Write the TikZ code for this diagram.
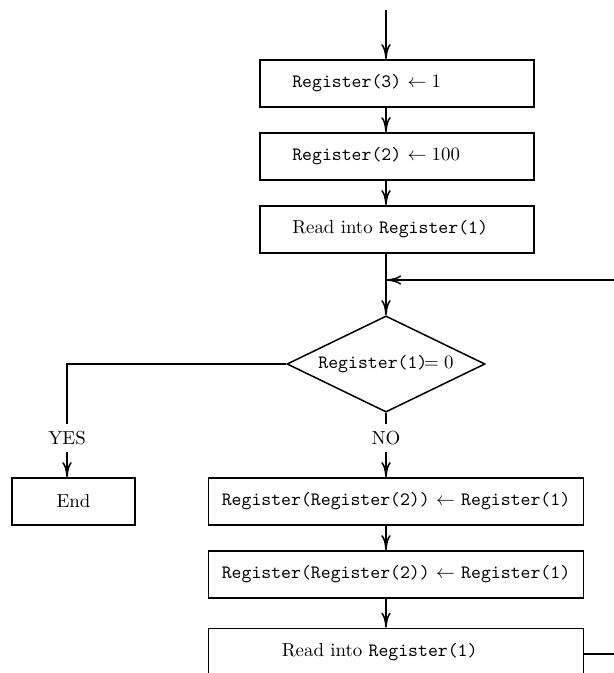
\documentclass[tikz,border=0pt]{standalone}
\usepackage{tikz}
\usetikzlibrary{positioning,shapes.geometric,arrows.meta}

\begin{document}
\begin{tikzpicture}[x=0.53pt, y=-0.53pt, line width=0.8pt,
        >={To[length=8pt,width=5pt]},
        box/.style={rectangle, draw, minimum height=25pt, inner xsep=17pt,
            text width=111pt, align=left},
        widebox/.style={rectangle, draw, minimum height=25pt, minimum width=199pt},
        decision/.style={diamond, draw, inner sep=0pt, aspect=2,
            minimum width=105pt, minimum height=51pt}]
        \useasboundingbox (0,0) rectangle (614,673);
        \clip (0,0) rectangle (614,673);

        \coordinate (start) at (386,10);
        \coordinate (loop) at (614,280);
        \coordinate (exit) at (614,654);

        \node (reg3) [box] at (397,83.5) {\texttt{Register(3)} $\leftarrow 1$};
        \node (reg2) [box] at (397,156.5) {\texttt{Register(2)} $\leftarrow 100$};
        \node (read) [box] at (397,229.5) {Read into \texttt{Register(1)}};
        \node (test) [decision] at (386,364) {\texttt{Register(1)}$\!=0$};
        \node (yes) at (67,438) {YES};
        \node (no) at (386,438) {NO};
        \node (finish) [rectangle, draw, minimum height=25pt, minimum width=65pt]
            at (73.5,501.5) {End};
        \node (store) [widebox] at (396,501.5)
            {\texttt{Register(Register(2))} $\leftarrow$ \texttt{Register(1)}};
        \node (store2) [widebox] at (396,574.5)
            {\texttt{Register(Register(2))} $\leftarrow$ \texttt{Register(1)}};
        \node (again) [box, inner xsep=39pt, text width=121pt] at (396,652)
            {Read into \texttt{Register(1)}};

        \path[->]
            (start) edge (start |- reg3.north)
            (reg3.south -| start) edge (reg2.north -| start)
            (reg2.south -| start) edge (read.north -| start)
            (read.south -| start) edge (test.north)
            (loop) edge (loop -| start)
            (yes.south) edge (yes |- finish.north)
            (no.south) edge (store.north -| no)
            (store.south -| no) edge (store2.north -| no)
            (store2.south -| no) edge (again.north -| no)
        ;
        \draw (test.west) -| (yes.north);
        \draw (test.south) -- (no.north);
        \draw (again.east |- exit) -- (exit);
    \end{tikzpicture}
\end{document}
